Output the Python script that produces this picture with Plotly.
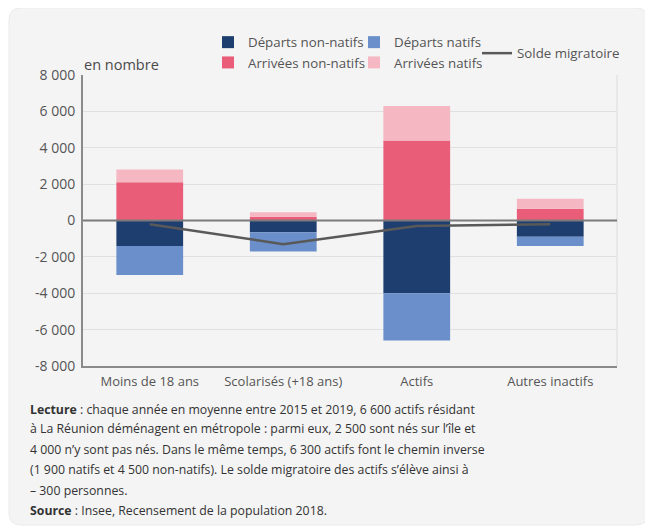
import plotly.graph_objects as go

categories = ["Moins de 18 ans", "Scolarisés (+18 ans)", "Actifs", "Autres inactifs"]
departs_non_natifs = [-1400, -650, -4000, -900]
departs_natifs = [-1600, -1050, -2600, -500]
arrivees_non_natifs = [2100, 200, 4400, 650]
arrivees_natifs = [700, 250, 1900, 550]
solde = [-200, -1300, -300, -200]

tick_vals = [8000, 6000, 4000, 2000, 0, -2000, -4000, -6000, -8000]
tick_text = ["8 000", "6 000", "4 000", "2 000", "0", "-2 000", "-4 000", "-6 000", "-8 000"]

note_lines = [
    "<b>Lecture</b> : chaque année en moyenne entre 2015 et 2019, 6 600 actifs résidant",
    "à La Réunion déménagent en métropole : parmi eux, 2 500 sont nés sur l’île et",
    "4 000 n’y sont pas nés. Dans le même temps, 6 300 actifs font le chemin inverse",
    "(1 900 natifs et 4 500 non-natifs). Le solde migratoire des actifs s’élève ainsi à",
    "– 300 personnes.",
    "<b>Source</b> : Insee, Recensement de la population 2018.",
]

OFF = 8  # page body margin
W, H = 653 - OFF, 532 - OFF
# plot area in screen coords: x 83..617, y 75..366
L, R, T, B = 83 - OFF, W - (617 - OFF), 75 - OFF, H - (366 - OFF)
PW, PH = W - L - R, H - T - B

def px(x):  # screen x -> paper
    return (x - OFF - L) / PW

def py(y):  # screen y -> paper
    return (H - B - (y - OFF)) / PH

FONT = "Open Sans"
TXT = "#555555"

fig = go.Figure()
fig.add_bar(x=categories, y=departs_non_natifs, name="Départs non-natifs",
            marker_color="#1f3e70", marker_line_width=0, legend="legend")
fig.add_bar(x=categories, y=arrivees_non_natifs, name="Arrivées non-natifs",
            marker_color="#ea5d79", marker_line_width=0, legend="legend")
fig.add_bar(x=categories, y=departs_natifs, name="Départs natifs",
            marker_color="#6a8fca", marker_line_width=0, legend="legend2")
fig.add_bar(x=categories, y=arrivees_natifs, name="Arrivées natifs",
            marker_color="#f5b7c2", marker_line_width=0, legend="legend2")
fig.add_scatter(x=categories, y=solde, name="Solde migratoire", mode="lines",
                line=dict(color="#595959", width=2.5), legend="legend3")

# card background
x0, x1, y0, y1 = px(9), px(648), py(525), py(8)
rx, ry = 12 / PW, 12 / PH
path = (f"M{x0+rx},{y0} L{x1-rx},{y0} Q{x1},{y0} {x1},{y0+ry} L{x1},{y1-ry} Q{x1},{y1} {x1-rx},{y1} "
        f"L{x0+rx},{y1} Q{x0},{y1} {x0},{y1-ry} L{x0},{y0+ry} Q{x0},{y0} {x0+rx},{y0} Z")
fig.add_shape(type="path", path=path, xref="paper", yref="paper", layer="below",
              fillcolor="#f4f4f4", line=dict(color="#ebebeb", width=1))
# right border
fig.add_shape(type="line", xref="paper", yref="paper", x0=1, x1=1, y0=0, y1=1,
              line=dict(color="#dcdcdc", width=1), layer="below")
# zero line
fig.add_shape(type="line", xref="paper", yref="y", x0=0, x1=1, y0=0, y1=0,
              line=dict(color="#7a7a7a", width=2), layer="above")

fig.add_annotation(text="en nombre", xref="paper", yref="paper", x=px(82), y=py(65),
                   xanchor="left", yanchor="middle", showarrow=False,
                   font=dict(family=FONT, size=14.5, color="#4a4a4a"))

ys = [409.3, 428.8, 449.3, 469.8, 490.3, 510.3]
for line, yy in zip(note_lines, ys):
    fig.add_annotation(text=line, xref="paper", yref="paper", x=px(28), y=py(yy),
                       xanchor="left", yanchor="middle", showarrow=False,
                       font=dict(family=FONT, size=12.3, color="#333333"))

leg_common = dict(orientation="v", xanchor="left", yanchor="top", bgcolor="rgba(0,0,0,0)",
                  font=dict(family=FONT, size=13.3, color=TXT), itemwidth=30,
                  traceorder="normal", tracegroupgap=0)

fig.update_layout(
    width=W, height=H,
    margin=dict(l=L, r=R, t=T, b=B, pad=0),
    paper_bgcolor="white",
    plot_bgcolor="rgba(0,0,0,0)",
    barmode="relative",
    bargap=0.5,
    font=dict(family=FONT, size=12, color=TXT),
    showlegend=True,
    legend=dict(x=px(208), y=py(27), **leg_common),
    legend2=dict(x=px(354), y=py(27), **leg_common),
    legend3=dict(x=px(477), y=py(38), **leg_common),
    xaxis=dict(showline=True, linecolor="#8a8a8a", linewidth=2, ticks="",
               tickfont=dict(family=FONT, size=13, color=TXT), showgrid=False,
               ticklabelstandoff=2),
    yaxis=dict(range=[-8000, 8000], tickvals=tick_vals, ticktext=tick_text,
               showline=True, linecolor="#8a8a8a", linewidth=2, ticks="",
               showgrid=True, gridcolor="#e0e0e0", gridwidth=1, zeroline=False,
               tickfont=dict(family=FONT, size=14, color=TXT), ticklabelstandoff=3),
)

fig.write_html("out.html")
